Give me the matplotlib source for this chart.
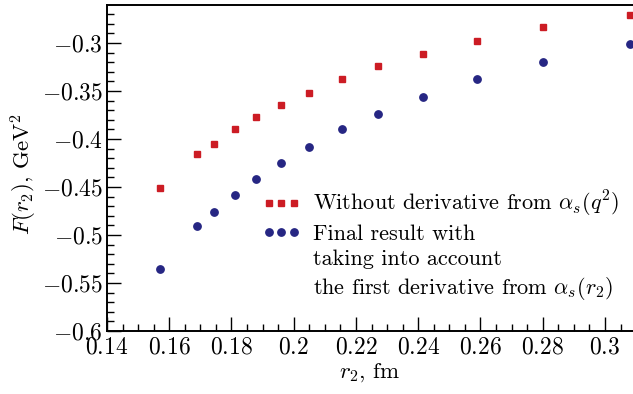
import numpy as np
import matplotlib
matplotlib.use("Agg")
import matplotlib.pyplot as plt
from matplotlib.lines import Line2D
from matplotlib.ticker import MultipleLocator, FuncFormatter

# r2 in fm
r2 = [0.157, 0.169, 0.1745, 0.181, 0.188, 0.196, 0.205, 0.2155, 0.227,
      0.2415, 0.259, 0.280, 0.308]
# F(r2) without derivative from alpha_s(q^2)
f_noderiv = [-0.451, -0.416, -0.405, -0.390, -0.377, -0.365, -0.352, -0.338,
             -0.324, -0.311, -0.298, -0.283, -0.271]
# final result with first derivative from alpha_s(r2)
f_final = [-0.535, -0.491, -0.476, -0.458, -0.442, -0.425, -0.408, -0.390,
           -0.374, -0.356, -0.338, -0.320, -0.301]

plt.rcParams['font.family'] = ['cmr10', 'DejaVu Serif']
plt.rcParams['mathtext.fontset'] = 'cm'
plt.rcParams['axes.formatter.use_mathtext'] = True

red = '#cc1c24'
blue = '#262683'

fig = plt.figure(figsize=(6.33, 3.94), dpi=100)
ax = fig.add_axes([107/633, 1 - 331/394, 1 - 107/633, 326/394])

ax.plot(r2, f_noderiv, ls='none', marker='s', ms=5, color=red)
ax.plot(r2, f_final, ls='none', marker='o', ms=5.3, color=blue)

ax.set_xlim(0.14, 0.309)
ax.set_ylim(-0.6, -0.2604)

ax.xaxis.set_major_locator(MultipleLocator(0.02))
ax.xaxis.set_minor_locator(MultipleLocator(0.005))
ax.yaxis.set_major_locator(MultipleLocator(0.05))
ax.yaxis.set_minor_locator(MultipleLocator(0.01))
fmt = FuncFormatter(lambda v, p: '$%s$' % ('%g' % round(v, 4)))
ax.xaxis.set_major_formatter(fmt)
ax.yaxis.set_major_formatter(fmt)

ax.tick_params(which='both', direction='in', top=False, right=False,
               labelsize=17, width=1, color='black')
ax.tick_params(axis='x', which='major', length=10, pad=4)
ax.tick_params(axis='y', which='major', length=10, pad=3)
ax.tick_params(which='minor', length=5)
for s in ['left', 'bottom', 'top']:
    ax.spines[s].set_linewidth(1.4)
ax.spines['right'].set_visible(False)

ax.set_xlabel('$r_2$, fm', fontsize=16.5, labelpad=2)
ax.set_ylabel('$F(r_2)$, GeV$^2$', fontsize=16.5)
ax.yaxis.set_label_coords(-0.13, 0.48)

handles = [Line2D([], [], ls='none', marker='s', ms=5, color=red),
           Line2D([], [], ls='none', marker='o', ms=5.3, color=blue),
           Line2D([], [], ls='none'),
           Line2D([], [], ls='none')]
labels = ['Without derivative from $\\alpha_s(q^2)$',
          'Final result with',
          'taking into account',
          'the first derivative from $\\alpha_s(r_2)$']
ax.legend(handles, labels, loc='upper left', bbox_to_anchor=(262/633, 1 - 189/394),
          bbox_transform=fig.transFigure, frameon=False, numpoints=3,
          fontsize=16, handlelength=1.75, handletextpad=0.55,
          labelspacing=0.25, borderpad=0, borderaxespad=0)

fig.savefig('out.png', dpi=100)
